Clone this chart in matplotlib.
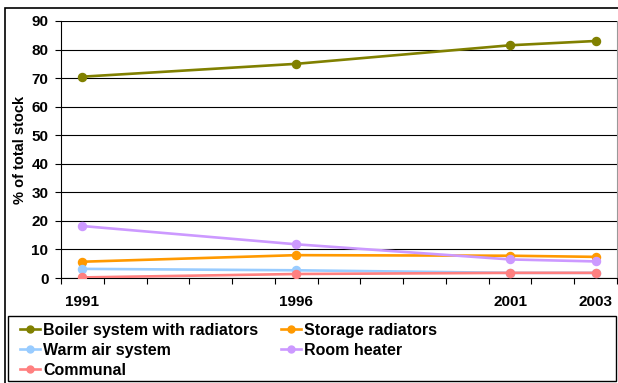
import matplotlib
matplotlib.use("Agg")
import matplotlib.pyplot as plt
from matplotlib.patches import Rectangle
from matplotlib.ticker import MultipleLocator

plt.rcParams['font.family'] = ['Liberation Sans', 'DejaVu Sans']
plt.rcParams['font.weight'] = 'bold'

years = [1991, 1996, 2001, 2003]
boiler = [70.5, 75.0, 81.5, 83.0]
storage = [5.7, 8.0, 7.8, 7.4]
warm_air = [3.2, 2.7, 1.8, 1.8]
room_heater = [18.2, 11.8, 6.5, 5.8]
communal = [0.2, 1.4, 1.8, 1.8]

series = [
    ("Boiler system with radiators", boiler, "#808000"),
    ("Storage radiators", storage, "#FF9900"),
    ("Warm air system", warm_air, "#99CCFF"),
    ("Room heater", room_heater, "#CC99FF"),
    ("Communal", communal, "#FF8080"),
]

W, H = 618, 383
fig = plt.figure(figsize=(W / 100, H / 100), dpi=100)
ax = fig.add_axes([61 / W, 1 - 278 / H, 556 / W, 257 / H])

lines = {}
for name, vals, col in series:
    ln, = ax.plot(years, vals, color=col, lw=1.9, marker='o', ms=5.8,
                  mec=col, mfc=col, label=name, zorder=3)
    lines[name] = ln

ax.set_xlim(1990.5, 2003.5)
ax.set_ylim(0, 90)
ax.yaxis.set_major_locator(MultipleLocator(10))
ax.grid(axis='y', color='black', lw=0.8, zorder=1)

ax.set_xticks(years)
ax.set_xticks([y + 0.5 for y in range(1990, 2004)], minor=True)
ax.tick_params(axis='x', which='major', length=0, pad=12, labelsize=11)
ax.tick_params(axis='x', which='minor', length=4, width=0.8, direction='out')
ax.tick_params(axis='y', length=4, width=0.8, pad=5, labelsize=11)

ax.spines['top'].set_visible(False)
ax.spines['right'].set_color('#999999')
ax.spines['left'].set_linewidth(0.8)
ax.spines['bottom'].set_linewidth(0.8)

ax.set_ylabel("% of total stock", fontsize=10.5, fontweight='bold', labelpad=3)

# legend filled column-wise so the rows read Boiler/Storage, Warm air/Room heater, Communal
order = ["Boiler system with radiators", "Warm air system", "Communal",
         "Storage radiators", "Room heater"]
leg = fig.legend([lines[n] for n in order], order, ncol=2,
                 loc='upper left', bbox_to_anchor=(20 / W, 1 - 323 / H),
                 fontsize=11.5, frameon=False, handlelength=1.25,
                 handletextpad=0.2, labelspacing=0.3, columnspacing=1.4,
                 borderpad=0, borderaxespad=0)
for h in leg.legend_handles:
    h.set_markersize(5)
    h.set_linewidth(1.9)

# legend box and outer chart border
fig.patches.append(Rectangle((8 / W, 2 / H), 608 / W, 65 / H,
                             transform=fig.transFigure, fill=False,
                             edgecolor='black', lw=1.0))
fig.patches.append(Rectangle((5 / W, -0.01), 1.0, 1 - 8 / H + 0.01,
                             transform=fig.transFigure, fill=False,
                             edgecolor='black', lw=1.2))

fig.savefig("out.png", dpi=100)
